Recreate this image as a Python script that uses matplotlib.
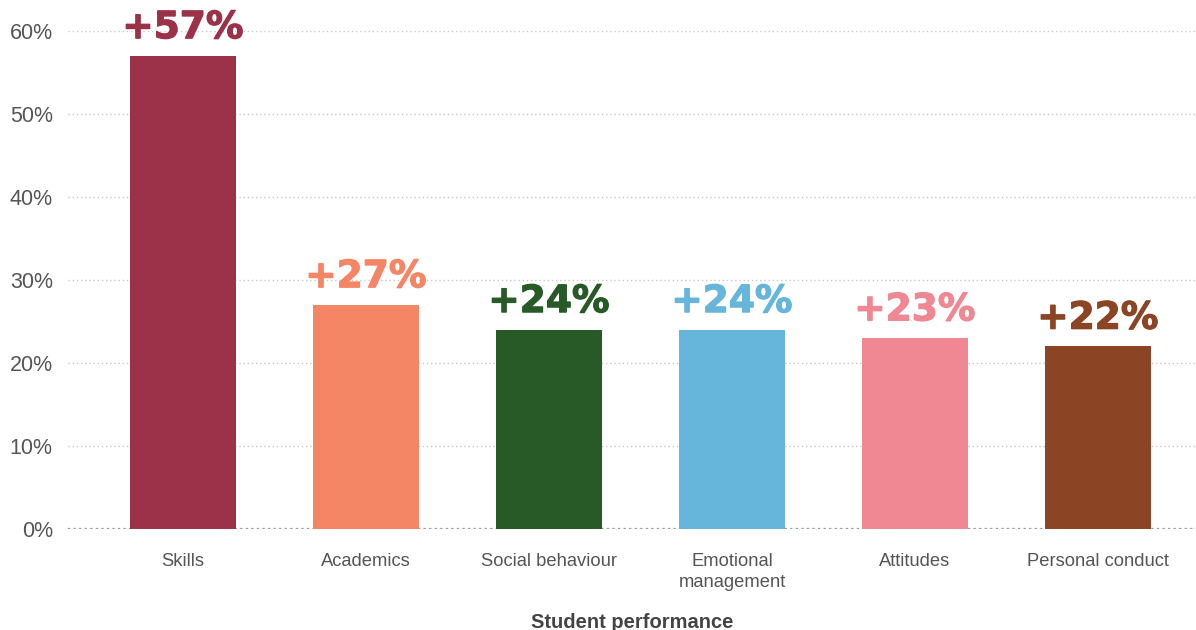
import numpy as np
import matplotlib.pyplot as plt
import matplotlib.patheffects as pe

categories = ['Skills', 'Academics', 'Social behaviour', 'Emotional\nmanagement',
              'Attitudes', 'Personal conduct']
values = [57, 27, 24, 24, 23, 22]
bar_colors = ['#9B3249', '#F48665', '#285A28', '#66B6DC', '#F08894', '#8B4524']
yticks = [0, 10, 20, 30, 40, 50, 60]

plt.rcParams['font.family'] = ['Liberation Sans', 'DejaVu Sans']

fig = plt.figure(figsize=(11.96, 6.30), dpi=100)
ax = fig.add_axes([0.0569, 0.1603, 0.9431, 0.7905])

ind = np.arange(len(categories))
bars = ax.bar(ind, values, width=0.58, color=bar_colors, zorder=3)

# big value labels above each bar, slightly thickened
for bar, v, c in zip(bars, values, bar_colors):
    ax.annotate('+%d%%' % v, (bar.get_x() + bar.get_width() / 2, v),
                xytext=(0, 7), textcoords='offset points',
                ha='center', va='bottom', color=c, fontsize=27,
                fontweight='bold', family='DejaVu Sans', zorder=4,
                path_effects=[pe.withStroke(linewidth=0.9, foreground=c)])

ax.set_xlim(-0.628, 5.536)
ax.set_ylim(0, 60)
ax.set_yticks(yticks)
ax.set_yticklabels(['%d%%' % t for t in yticks], fontsize=15.5)
ax.set_xticks(ind)
ax.set_xticklabels(categories, linespacing=1.3, fontsize=13.2)

for s in ax.spines.values():
    s.set_visible(False)
ax.tick_params(axis='both', length=0, labelcolor='#555555')
ax.tick_params(axis='x', pad=17)
ax.tick_params(axis='y', pad=11)

ax.yaxis.grid(True, linestyle=(0, (1, 2)), color='#c8c8c8', linewidth=1, zorder=0)
ax.axhline(0, linestyle=(0, (1, 1.5)), color='#999999', linewidth=1.6, zorder=2)

ax.set_xlabel('Student performance', fontsize=14.5, fontweight='bold',
              color='#444444', labelpad=16)

fig.savefig('out.png', dpi=100)
